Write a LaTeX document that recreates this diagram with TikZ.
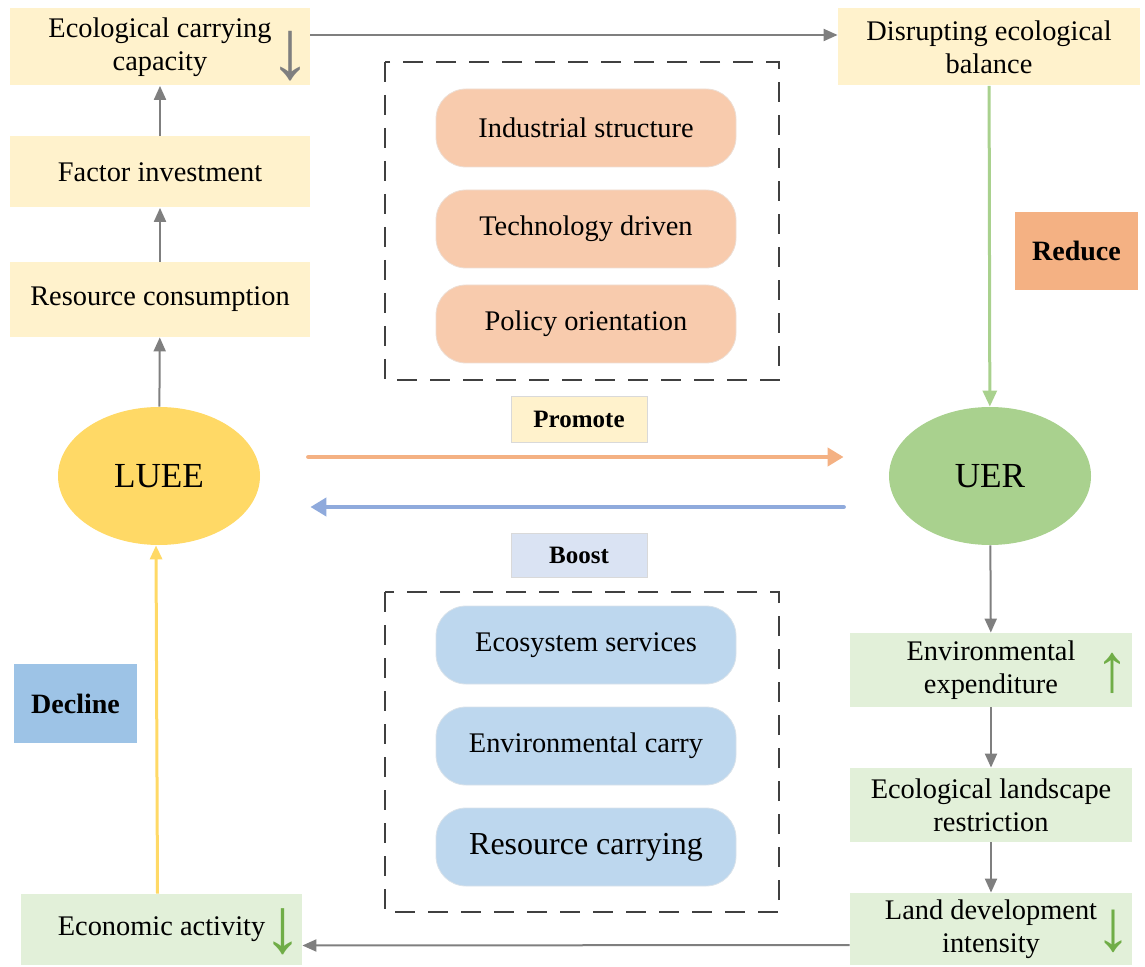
\documentclass[tikz,border=0pt]{standalone}
\usepackage{fontspec}
\setmainfont{Liberation Serif}
\usetikzlibrary{arrows.meta, shapes.geometric}

\definecolor{paleyellow}{HTML}{FFF2CC}
\definecolor{palegreen}{HTML}{E2F0D9}
\definecolor{paleorange}{HTML}{F8CBAD}
\definecolor{paleblue}{HTML}{BDD7EE}
\definecolor{lightblue}{HTML}{DAE3F3}
\definecolor{midblue}{HTML}{9DC3E6}
\definecolor{midorange}{HTML}{F4B183}
\definecolor{gold}{HTML}{FFD966}
\definecolor{leaf}{HTML}{A9D18E}
\definecolor{arrowgray}{HTML}{7F7F7F}
\definecolor{arrowblue}{HTML}{8FAADC}
\definecolor{arrowgreen}{HTML}{70AD47}

\begin{document}
\begin{tikzpicture}[
    x=0.5pt, y=-0.5pt,
    box/.style={fill=#1, minimum width=150pt, minimum height=37pt, inner sep=0pt, align=center, font=\fontsize{14.2}{16.5}\selectfont},
    pill/.style={draw=#1!85!black!40, fill=#1, rounded corners=15pt, minimum width=150pt, minimum height=39pt, inner sep=0pt, font=\fontsize{14.2}{16.5}\selectfont},
    tag/.style={fill=#1, inner sep=0pt, font=\bfseries\fontsize{14}{16}\selectfont},
    core/.style={ellipse, fill=#1, minimum width=101pt, minimum height=69pt, inner sep=0pt, font=\fontsize{17.6}{20}\selectfont},
    trend/.style={text=#1, inner sep=0pt},
    garrow/.style={-{Triangle[length=7pt, width=6pt]}, line width=1pt, draw=arrowgray},
    link/.style={-{Triangle[length=8pt, width=9pt]}, line width=2.3pt, draw=#1, line cap=round},
    frame/.style={dashed, dash pattern=on 10pt off 6.5pt, line width=1pt, draw=black!75}
]
    \useasboundingbox (0,0) rectangle (1145,967);

    % Left column
    \node[box=paleyellow, minimum height=38.5pt] (ecc) at (160,47) {Ecological carrying\\capacity};
    \node[box=paleyellow, minimum height=35.5pt] (factor) at (160,172) {Factor investment};
    \node[box=paleyellow, minimum height=37.5pt] (resource) at (160,299.5) {Resource consumption};
    \node[core=gold] (luee) at (159,476) {LUEE};
    \node[box=palegreen, minimum width=140.5pt, minimum height=35.5pt] (econ) at (161.5,929.5) {Economic activity};
    \node[tag=midblue, minimum width=61.5pt, minimum height=39.5pt] (decline) at (75.5,703.5) {Decline};

    % Right column
    \node[box=paleyellow, minimum width=151pt, minimum height=38.5pt] (disrupt) at (989,47) {Disrupting ecological\\balance};
    \node[tag=midorange, minimum width=61.5pt, minimum height=39pt] (reduce) at (1076.5,251) {Reduce};
    \node[core=leaf] (uer) at (990,476) {UER};
    \node[box=palegreen, minimum width=141pt] (envexp) at (991,670) {Environmental\\expenditure};
    \node[box=palegreen, minimum width=141pt] (landscape) at (991,805) {Ecological landscape\\restriction};
    \node[box=palegreen, minimum width=141pt, minimum height=36pt] (landdev) at (991,929) {Land development\\intensity};

    % Trend marks
    \node[trend=arrowgray, font=\fontsize{42}{42}\selectfont] (eccmark) at (290,56) {↓};
    \node[trend=arrowgreen, font=\fontsize{34}{34}\selectfont] (envmark) at (1112,673) {↑};
    \node[trend=arrowgreen, font=\fontsize{36}{36}\selectfont] (landmark) at (1113,931) {↓};
    \node[trend=arrowgreen, font=\fontsize{39}{39}\selectfont] (econmark) at (283,932) {↓};

    % Middle: drivers
    \draw[frame] (385,62) rectangle (779,380);
    \node[pill=paleorange] (industry) at (586,128) {Industrial structure};
    \node[pill=paleorange] (tech) at (586,229) {Technology driven};
    \node[pill=paleorange] (policy) at (586,324) {Policy orientation};

    \draw[frame] (385,592) rectangle (779,912);
    \node[pill=paleblue] (ecoserv) at (586,645) {Ecosystem services};
    \node[pill=paleblue] (envcarry) at (586,746) {Environmental carry};
    \node[pill=paleblue, font=\fontsize{16}{18}\selectfont] (rescarry) at (586,847) {Resource carrying};

    \node[tag=paleyellow, draw=black!15, minimum width=68pt, minimum height=23pt, font=\bfseries\fontsize{12.5}{14}\selectfont] (promote) at (579,419) {Promote};
    \node[tag=lightblue, draw=black!15, minimum width=68pt, minimum height=22pt, font=\bfseries\fontsize{12.5}{14}\selectfont] (boost) at (579,555) {Boost};

    % Arrows - left column
    \draw[garrow] (luee) -- (resource);
    \draw[garrow] (resource) -- (factor);
    \draw[garrow] (factor) -- (ecc);
    \draw[garrow] ([yshift=6pt]ecc.east) -- ([yshift=6pt]disrupt.west);
    \draw[-{Triangle[length=8pt, width=7pt]}, line width=1.5pt, draw=leaf] (disrupt) -- (uer);

    % Arrows - right column
    \draw[garrow] (uer) -- (envexp);
    \draw[garrow] (envexp) -- (landscape);
    \draw[garrow] (landscape) -- (landdev);
    \draw[garrow] ([yshift=-8pt]landdev.west) -- ([yshift=-8pt]econ.east);
    \draw[-{Triangle[length=7pt, width=6pt]}, line width=1.5pt, draw=gold] ([xshift=-2pt]econ.north) -- ([xshift=-1.5pt]luee.south);

    % Arrows - between the two cores
    \draw[link=midorange] ([xshift=24pt, yshift=9.5pt]luee.east) -- ([xshift=-22.5pt, yshift=9.5pt]uer.west);
    \draw[link=arrowblue] ([xshift=-22.5pt, yshift=-15.5pt]uer.west) -- ([xshift=25pt, yshift=-15.5pt]luee.east);

\end{tikzpicture}
\end{document}
